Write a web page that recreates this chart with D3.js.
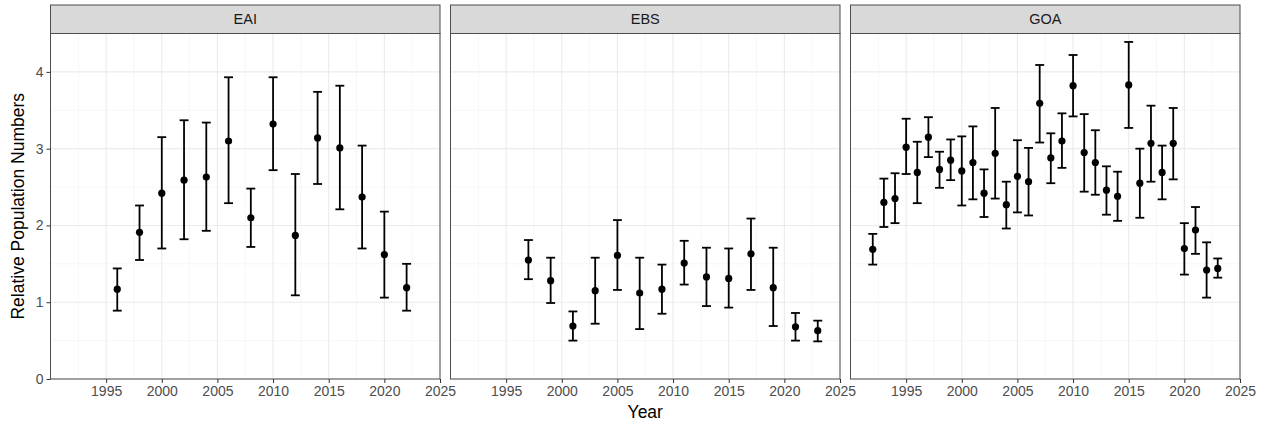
<!DOCTYPE html>
<html>
<head>
<meta charset="utf-8">
<script src="https://cdn.jsdelivr.net/npm/d3@7"></script>
<style>
  body { margin: 0; background: #fff; }
  svg { display: block; font-family: "Liberation Sans", Arial, sans-serif; }
</style>
</head>
<body>
<svg width="1261" height="427"></svg>
<script>
// facet labels
const regions = ['EAI', 'EBS', 'GOA'];

// EAI
const eaiYears = [1996, 1998, 2000, 2002, 2004, 2006, 2008, 2010, 2012, 2014, 2016, 2018, 2020, 2022];
const eaiEst   = [1.17, 1.91, 2.42, 2.59, 2.63, 3.10, 2.10, 3.32, 1.87, 3.14, 3.01, 2.37, 1.62, 1.19];
const eaiLo    = [0.89, 1.55, 1.70, 1.82, 1.93, 2.29, 1.72, 2.72, 1.09, 2.54, 2.21, 1.70, 1.06, 0.89];
const eaiHi    = [1.44, 2.26, 3.15, 3.37, 3.34, 3.93, 2.48, 3.93, 2.67, 3.74, 3.82, 3.04, 2.18, 1.50];

// EBS
const ebsYears = [1997, 1999, 2001, 2003, 2005, 2007, 2009, 2011, 2013, 2015, 2017, 2019, 2021, 2023];
const ebsEst   = [1.55, 1.28, 0.69, 1.15, 1.61, 1.12, 1.17, 1.51, 1.33, 1.31, 1.63, 1.19, 0.68, 0.63];
const ebsLo    = [1.30, 0.99, 0.50, 0.72, 1.16, 0.65, 0.85, 1.23, 0.95, 0.93, 1.16, 0.69, 0.50, 0.49];
const ebsHi    = [1.81, 1.58, 0.88, 1.58, 2.07, 1.58, 1.49, 1.80, 1.71, 1.70, 2.09, 1.71, 0.86, 0.76];

// GOA
const goaYears = [1992, 1993, 1994, 1995, 1996, 1997, 1998, 1999, 2000, 2001, 2002, 2003, 2004, 2005, 2006, 2007,
                  2008, 2009, 2010, 2011, 2012, 2013, 2014, 2015, 2016, 2017, 2018, 2019, 2020, 2021, 2022, 2023];
const goaEst   = [1.69, 2.30, 2.35, 3.02, 2.69, 3.15, 2.73, 2.85, 2.71, 2.82, 2.42, 2.94, 2.27, 2.64, 2.57, 3.59,
                  2.88, 3.10, 3.82, 2.95, 2.82, 2.46, 2.38, 3.83, 2.55, 3.07, 2.69, 3.07, 1.70, 1.94, 1.42, 1.44];
const goaLo    = [1.49, 1.98, 2.03, 2.67, 2.29, 2.89, 2.49, 2.59, 2.26, 2.34, 2.11, 2.35, 1.96, 2.17, 2.13, 3.08,
                  2.55, 2.75, 3.42, 2.44, 2.40, 2.14, 2.06, 3.27, 2.10, 2.57, 2.34, 2.60, 1.36, 1.63, 1.06, 1.32];
const goaHi    = [1.89, 2.61, 2.68, 3.39, 3.09, 3.41, 2.96, 3.12, 3.16, 3.29, 2.73, 3.53, 2.57, 3.11, 3.01, 4.09,
                  3.20, 3.46, 4.22, 3.45, 3.24, 2.77, 2.70, 4.39, 3.00, 3.56, 3.04, 3.53, 2.03, 2.24, 1.78, 1.57];

const xBreaks = [1995, 2000, 2005, 2010, 2015, 2020, 2025];
const xMinor  = [1992.5, 1997.5, 2002.5, 2007.5, 2012.5, 2017.5, 2022.5];
const yBreaks = [0, 1, 2, 3, 4];
const yMinor  = [0.5, 1.5, 2.5, 3.5];

const series = {
  EAI: { years: eaiYears, est: eaiEst, lo: eaiLo, hi: eaiHi },
  EBS: { years: ebsYears, est: ebsEst, lo: ebsLo, hi: ebsHi },
  GOA: { years: goaYears, est: goaEst, lo: goaLo, hi: goaHi }
};

const svg = d3.select('svg');
const margin = {top: 33.5, left: 50.5};
const gap = 10.5;
const stripH = 28.5;
const panelW = 389.5;
const panelH = 379 - margin.top;

const x = d3.scaleLinear().domain([1990, 2025]).range([0, panelW]);
const y = d3.scaleLinear().domain([0, 4.5]).range([panelH, 0]);

function hline(g, vals, color, w) {
  g.append('g').selectAll('line').data(vals).enter().append('line')
    .attr('x1', 0).attr('x2', panelW).attr('y1', v => y(v)).attr('y2', v => y(v))
    .attr('stroke', color).attr('stroke-width', w);
}
function vline(g, vals, color, w) {
  g.append('g').selectAll('line').data(vals).enter().append('line')
    .attr('y1', 0).attr('y2', panelH).attr('x1', v => x(v)).attr('x2', v => x(v))
    .attr('stroke', color).attr('stroke-width', w);
}

regions.forEach((r, i) => {
  const d = series[r];
  const g = svg.append('g')
    .attr('transform', 'translate(' + (margin.left + i * (panelW + gap)) + ',' + margin.top + ')');

  g.append('rect').attr('width', panelW).attr('height', panelH).attr('fill', '#fff');

  // grid (minor first)
  hline(g, yMinor, '#f2f2f2', 0.6);
  vline(g, xMinor, '#f2f2f2', 0.6);
  hline(g, yBreaks, '#ebebeb', 1.1);
  vline(g, xBreaks, '#ebebeb', 1.1);

  // error bars
  const idx = d.years.map((_, k) => k);
  const cap = (x(1990.8) - x(1990)) / 2;
  g.append('g').selectAll('line').data(idx).enter().append('line')
    .attr('x1', k => x(d.years[k])).attr('x2', k => x(d.years[k]))
    .attr('y1', k => y(d.lo[k])).attr('y2', k => y(d.hi[k]))
    .attr('stroke', '#000').attr('stroke-width', 1.8);
  ['lo', 'hi'].forEach(key => {
    g.append('g').selectAll('line').data(idx).enter().append('line')
      .attr('x1', k => x(d.years[k]) - cap).attr('x2', k => x(d.years[k]) + cap)
      .attr('y1', k => y(d[key][k])).attr('y2', k => y(d[key][k]))
      .attr('stroke', '#000').attr('stroke-width', 1.8);
  });
  g.append('g').selectAll('circle').data(idx).enter().append('circle')
    .attr('cx', k => x(d.years[k])).attr('cy', k => y(d.est[k])).attr('r', 3.6)
    .attr('fill', '#000');

  // border
  g.append('rect').attr('width', panelW).attr('height', panelH)
    .attr('fill', 'none').attr('stroke', '#4d4d4d').attr('stroke-width', 1);

  // strip
  g.append('rect').attr('y', -stripH).attr('width', panelW).attr('height', stripH)
    .attr('fill', '#d9d9d9').attr('stroke', '#4d4d4d').attr('stroke-width', 1);
  g.append('text').attr('x', panelW / 2).attr('y', -stripH / 2).attr('dy', '0.35em')
    .attr('text-anchor', 'middle').attr('font-size', 14.5).attr('fill', '#1a1a1a').text(r);

  // x axis
  const xa = g.append('g').attr('transform', 'translate(0,' + panelH + ')')
    .call(d3.axisBottom(x).tickValues(xBreaks).tickFormat(d3.format('d')).tickSize(4).tickPadding(3));
  xa.select('.domain').remove();
  xa.selectAll('line').attr('stroke', '#333');
  xa.selectAll('text').attr('font-size', 14).attr('fill', '#4d4d4d').attr('font-family', null);

  if (i === 0) {
    const ya = g.append('g')
      .call(d3.axisLeft(y).tickValues(yBreaks).tickFormat(d3.format('d')).tickSize(4).tickPadding(3));
    ya.select('.domain').remove();
    ya.selectAll('line').attr('stroke', '#333');
    ya.selectAll('text').attr('font-size', 14).attr('fill', '#4d4d4d').attr('font-family', null);
  }
});

const totalW = 3 * panelW + 2 * gap;
svg.append('text')
  .attr('x', margin.left + totalW / 2).attr('y', 418)
  .attr('text-anchor', 'middle').attr('font-size', 17.5).attr('fill', '#000').text('Year');
svg.append('text')
  .attr('transform', 'translate(24,' + (margin.top + panelH / 2) + ') rotate(-90)')
  .attr('text-anchor', 'middle').attr('font-size', 17.5).attr('fill', '#000').text('Relative Population Numbers');
</script>
</body>
</html>
